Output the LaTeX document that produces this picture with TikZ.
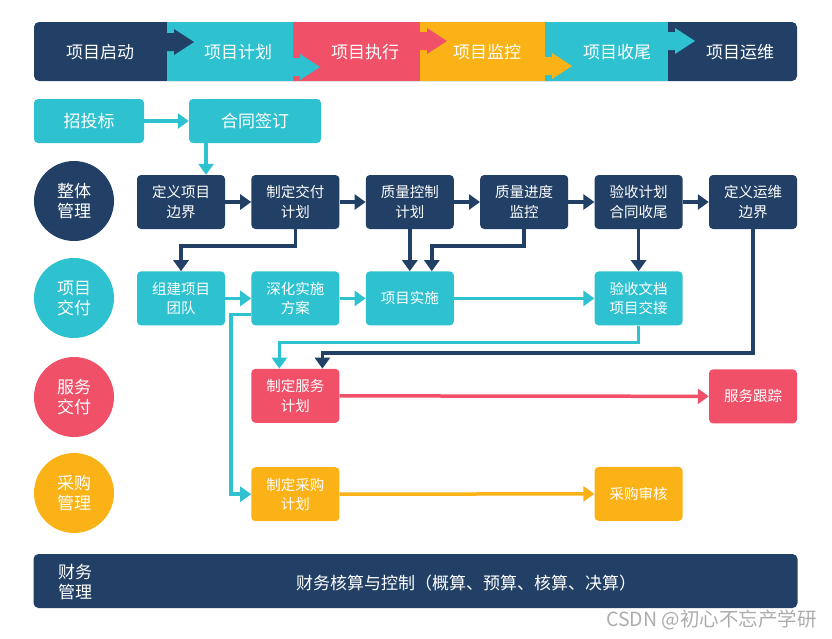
\documentclass[tikz,border=0pt]{standalone}
\usepackage{fontspec}
\setmainfont{Noto Sans CJK SC}
\usetikzlibrary{arrows.meta,positioning}
\definecolor{pmnavy}{RGB}{34,64,102}
\definecolor{pmteal}{RGB}{46,193,208}
\definecolor{pmred}{RGB}{240,80,104}
\definecolor{pmyellow}{RGB}{251,178,22}

\begin{document}
\begin{tikzpicture}[x=1pt,y=-1pt,
  node distance=26pt,
  box/.style={rounded corners=4pt,minimum width=88pt,minimum height=54pt,inner sep=0pt,
              align=center,text=white,font=\fontsize{14.5}{19.5}\selectfont},
  nbox/.style={box,fill=pmnavy},
  tbox/.style={box,fill=pmteal},
  rbox/.style={box,fill=pmred},
  ybox/.style={box,fill=pmyellow},
  lane/.style={circle,minimum size=80pt,inner sep=0pt,align=center,text=white,
               font=\fontsize{17}{20}\selectfont},
  phase/.style={text=white,font=\fontsize{17}{20}\selectfont},
  arr/.style={-{Triangle[length=11pt,width=15pt]},line width=3.5pt},
  narr/.style={arr,pmnavy},
  tarr/.style={arr,pmteal},
  rarr/.style={arr,pmred},
  yarr/.style={arr,pmyellow}
]
\useasboundingbox (0,0) rectangle (832,638);

% phase banner
\fill[pmnavy,rounded corners=5pt] (34,22) rectangle (797,81);
\fill[pmteal] (167,22) rectangle (293,81);
\fill[pmred] (293,22) rectangle (420,81);
\fill[pmyellow] (420,22) rectangle (545,81);
\fill[pmteal] (545,22) rectangle (668,81);
\foreach \x/\y/\c in {167/42/pmnavy,293/67/pmteal,420/41/pmred,545/66/pmyellow,668/41/pmteal}
  \fill[\c] (\x,{\y-9}) -- ({\x+7},{\y-9}) -- ({\x+7},{\y-13}) -- ({\x+27},\y)
    -- ({\x+7},{\y+13}) -- ({\x+7},{\y+9}) -- (\x,{\y+9}) -- cycle;
\node[phase] (qidong) at (100,52) {项目启动};
\node[phase] (jihua) at (238,52) {项目计划};
\node[phase] (zhixing) at (365,52) {项目执行};
\node[phase] (jiankong) at (487,52) {项目监控};
\node[phase] (shouwei0) at (617,52) {项目收尾};
\node[phase] (yunwei0) at (740,52) {项目运维};

% contract
\node[tbox,minimum width=110pt,minimum height=44pt,font=\fontsize{17}{20}\selectfont] (zhaobiao) at (89,121) {招投标};
\node[tbox,minimum width=132pt,minimum height=44pt,font=\fontsize{17}{20}\selectfont] (hetong) at (255,121) {合同签订};

% lanes
\node[lane,fill=pmnavy] (zhengti) at (74,201) {整体\\管理};
\node[lane,fill=pmteal] (xiangmu) at (74,298) {项目\\交付};
\node[lane,fill=pmred] (fuwujf) at (74,397) {服务\\交付};
\node[lane,fill=pmyellow] (caigougl) at (74,493) {采购\\管理};

% boxes
\node[nbox] (bianjie) at (181,202) {定义项目\\边界};
\node[nbox,right=of bianjie] (jiaofu) {制定交付\\计划};
\node[nbox,right=of jiaofu] (zhikong) {质量控制\\计划};
\node[nbox,right=of zhikong] (jindu) {质量进度\\监控};
\node[nbox,right=of jindu] (shouwei) {验收计划\\合同收尾};
\node[nbox,right=of shouwei] (yunwei) {定义运维\\边界};
\node[tbox,below=42pt of bianjie] (tuandui) {组建项目\\团队};
\node[tbox,right=of tuandui] (fangan) {深化实施\\方案};
\node[tbox,right=of fangan] (shishi) {项目实施};
\node[tbox,below=42pt of shouwei] (jiaojie) {验收文档\\项目交接};
\node[rbox,below=43pt of fangan] (fuwu) {制定服务\\计划};
\node[rbox,below=140pt of yunwei] (genzong) {服务跟踪};
\node[ybox,below=44pt of fuwu] (caigou) {制定采购\\计划};
\node[ybox,below=141pt of jiaojie] (shenhe) {采购审核};

% finance bar
\node[fill=pmnavy,rounded corners=5pt,minimum width=764pt,minimum height=54pt] (caiwu) at (415.5,581) {};
\node[phase,align=left] (caiwugl) at (75,582) {财务\\管理};
\node[phase] (hesuan) at (466,583) {财务核算与控制（概算、预算、核算、决算）};
\node[text=gray!65,font=\fontsize{19.5}{22}\selectfont,anchor=east,inner sep=0pt] (csdn) at (817,620) {CSDN @初心不忘产学研};

% connectors
\draw[tarr] (zhaobiao) -- (hetong);
\draw[tarr] ([xshift=25pt]bianjie.north |- hetong.south) -- ([xshift=25pt]bianjie.north);
\draw[narr] (bianjie) -- (jiaofu);
\draw[narr] (jiaofu) -- (zhikong);
\draw[narr] (zhikong) -- (jindu);
\draw[narr] (jindu) -- (shouwei);
\draw[narr] (shouwei) -- (yunwei);
\draw[narr] (jiaofu.south) -- ++(0,17) -| (tuandui.north);
\draw[narr] (zhikong.south) -- (shishi.north);
\draw[narr] (jindu.south) -- ++(0,17) -| ([xshift=22pt]shishi.north);
\draw[narr] (shouwei.south) -- (jiaojie.north);
\draw[tarr] (tuandui) -- (fangan);
\draw[tarr] (fangan) -- (shishi);
\draw[tarr] (shishi) -- (jiaojie);
\draw[tarr] (jiaojie.south) -- ++(0,17) -| ([xshift=-16pt]fuwu.north);
\draw[narr] (yunwei.south) -- ++(0,124) -| ([xshift=27pt]fuwu.north);
\draw[tarr] ([yshift=-16pt]fangan.west) -- ++(-20,0) |- (caigou.west);
\draw[rarr] (fuwu) -- (genzong);
\draw[yarr] (caigou) -- (shenhe);
\end{tikzpicture}
\end{document}
